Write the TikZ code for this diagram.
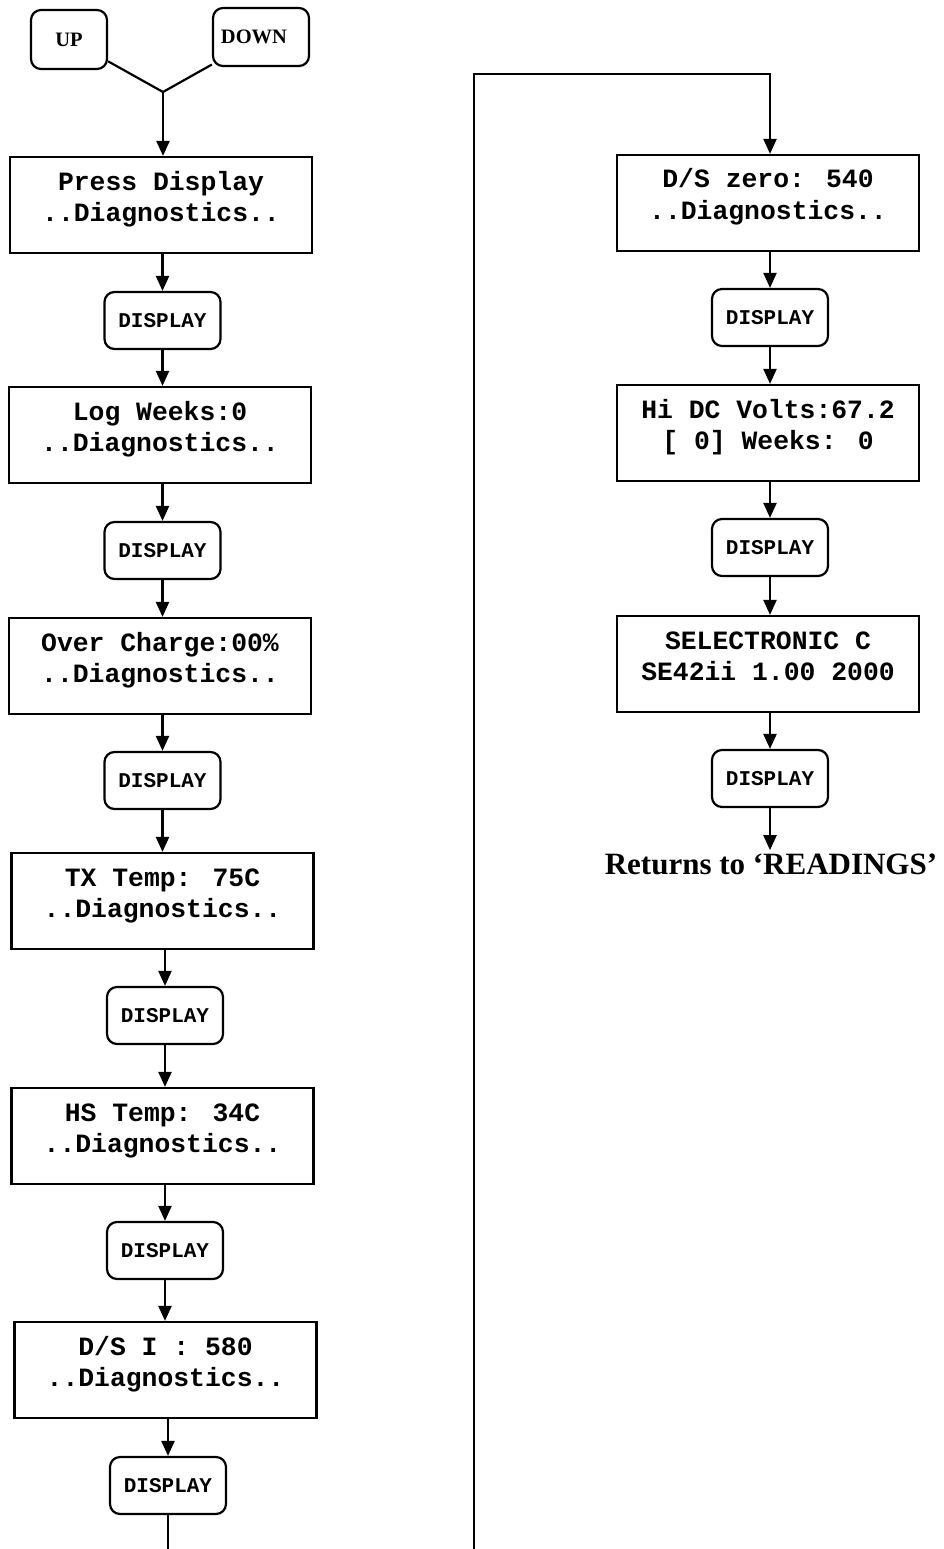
\documentclass[tikz,border=0pt]{standalone}
\usepackage{fontspec}
\setmainfont{Liberation Serif}
\newfontfamily\lcdfont{Liberation Mono}
\usetikzlibrary{arrows.meta}
\tikzset{
  lcd/.style={draw, line width=2.2pt, minimum width=302pt, minimum height=96pt, inner sep=0pt},
  lcdtxt/.style={anchor=base, inner sep=0pt, font=\lcdfont\bfseries\fontsize{26.4}{31}\selectfont},
  btn/.style={draw, line width=2.2pt, rounded corners=10pt, minimum width=116pt, minimum height=57pt, inner sep=0pt, font=\lcdfont\bfseries\fontsize{21}{24}\selectfont},
  keybox/.style={draw, line width=2.2pt, rounded corners=10pt, inner sep=0pt, font=\bfseries\fontsize{20.5}{24}\selectfont},
  conn/.style={line width=2.2pt},
  arr/.style={conn, -{Triangle[length=15pt,width=13pt]}},
  rettxt/.style={anchor=base, inner sep=3pt, font=\bfseries\fontsize{31}{36}\selectfont},
}
\newcommand\lcdbox[5]{%
  \node[lcd] (#1) at (#2,#3+48) {};
  \node[lcdtxt] (#1a) at (#2,#3+33) {#4};
  \node[lcdtxt] (#1b) at (#2,#3+64) {#5};}
\begin{document}
\begin{tikzpicture}[x=1pt,y=-1pt]
\useasboundingbox (0,0) rectangle (943,1549);
% keys
\node[keybox, minimum width=76pt, minimum height=59pt] (up) at (69,39.5) {UP};
\node[keybox, minimum width=96pt, minimum height=58pt] (down) at (261,37) {DOWN\kern14pt};
\coordinate (j) at (163,92);
\draw[conn] (up) -- (j);
\draw[conn] (down) -- (j);
% left column
\lcdbox{b1}{161}{157}{Press Display}{..Diagnostics..}
\node[btn] (d1) at (162.5,292+28.5) {DISPLAY};
\lcdbox{b2}{160}{387}{Log Weeks:0}{..Diagnostics..}
\node[btn] (d2) at (162.5,522+28.5) {DISPLAY};
\lcdbox{b3}{160}{618}{Over Charge:00\%}{..Diagnostics..}
\node[btn] (d3) at (162.5,752+28.5) {DISPLAY};
\lcdbox{b4}{162.5}{853}{TX Temp: 75C}{..Diagnostics..}
\node[btn] (d4) at (165,987+28.5) {DISPLAY};
\lcdbox{b5}{162.5}{1088}{HS Temp: 34C}{..Diagnostics..}
\node[btn] (d5) at (165,1222+28.5) {DISPLAY};
\lcdbox{b6}{165.5}{1322}{D/S I : 580}{..Diagnostics..}
\node[btn] (d6) at (168,1457+28.5) {DISPLAY};
\draw[arr] (j) -- (j |- b1.north);
\draw[arr] (b1.south -| d1.north) -- (d1.north);
\draw[arr] (d1.south) -- (d1.south |- b2.north);
\draw[arr] (b2.south -| d2.north) -- (d2.north);
\draw[arr] (d2.south) -- (d2.south |- b3.north);
\draw[arr] (b3.south -| d3.north) -- (d3.north);
\draw[arr] (d3.south) -- (d3.south |- b4.north);
\draw[arr] (b4.south -| d4.north) -- (d4.north);
\draw[arr] (d4.south) -- (d4.south |- b5.north);
\draw[arr] (b5.south -| d5.north) -- (d5.north);
\draw[arr] (d5.south) -- (d5.south |- b6.north);
\draw[arr] (b6.south -| d6.north) -- (d6.north);
\coordinate (lend) at (168,1549);
\draw[conn] (d6.south) -- (d6.south |- lend);
% right column
\lcdbox{r1}{768}{155}{D/S zero: 540}{..Diagnostics..}
\node[btn] (e1) at (770,289+28.5) {DISPLAY};
\lcdbox{r2}{768}{385}{Hi DC Volts:67.2}{[ 0] Weeks: 0}
\node[btn] (e2) at (770,519+28.5) {DISPLAY};
\lcdbox{r3}{768}{616}{SELECTRONIC C}{SE42ii 1.00 2000}
\node[btn] (e3) at (770,750+28.5) {DISPLAY};
\node[rettxt] (ret) at (771,874) {Returns to ‘READINGS’};
\coordinate (rbot) at (474,1549);
\coordinate (rtop) at (474,74);
\coordinate (rturn) at (770,74);
\draw[arr] (rbot) -- (rtop) -- (rturn) -- (rturn |- r1.north);
\draw[arr] (r1.south -| e1.north) -- (e1.north);
\draw[arr] (e1.south) -- (e1.south |- r2.north);
\draw[arr] (r2.south -| e2.north) -- (e2.north);
\draw[arr] (e2.south) -- (e2.south |- r3.north);
\draw[arr] (r3.south -| e3.north) -- (e3.north);
\draw[arr] (e3.south) -- (e3.south |- ret.north);
\end{tikzpicture}
\end{document}
